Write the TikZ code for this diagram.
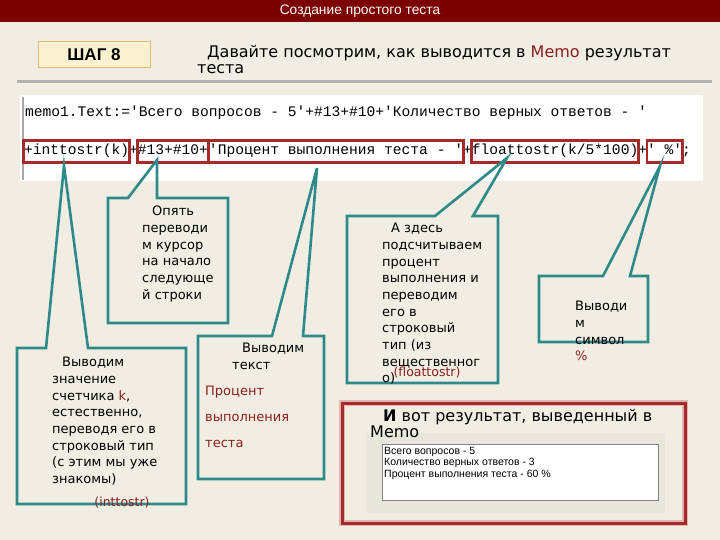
\documentclass[tikz,border=0pt]{standalone}
\usepackage{fontspec}
\setmainfont{DejaVu Sans}
\setmonofont{Liberation Mono}
\newfontfamily\titlefont{Liberation Sans}
\usetikzlibrary{positioning, fit}

\definecolor{bgcol}{HTML}{F1EDE2}
\definecolor{barcol}{HTML}{7D0000}
\definecolor{tealcol}{HTML}{2E8A8A}
\definecolor{boxred}{HTML}{A52A28}
\definecolor{txtred}{HTML}{8B1E1E}
\definecolor{stepfill}{HTML}{FCF2D2}
\definecolor{stepline}{HTML}{E6B870}
\definecolor{panelgray}{HTML}{E8E5DA}

\begin{document}
\begin{tikzpicture}[x=1pt, y=-1pt,
    code/.style={font=\ttfamily\fontsize{14.6}{17.3}\selectfont, inner sep=0pt, outer sep=0pt},
    redbox/.style={draw=boxred, line width=2.5pt, inner xsep=0.3pt, inner ysep=2.5pt},
    callout/.style={draw=tealcol, line width=2.6pt},
    note/.style={font=\fontsize{13}{16.7}\selectfont, align=left, inner sep=0pt, anchor=north west},
    rednote/.style={font=\fontsize{12.5}{15}\selectfont, text=txtred, inner sep=0pt}]
  \fill[bgcol] (0,0) rectangle (720,540);
  \useasboundingbox (0,0) rectangle (720,540);

  % title bar and step
  \fill[barcol] (0,0) rectangle (720,22);
  \node[text=white, font=\titlefont\fontsize{13.8}{15}\selectfont] (title) at (360,11) {Создание простого теста};
  \node[draw=stepline, fill=stepfill, line width=1pt, minimum width=112, minimum height=26,
    font=\titlefont\bfseries\fontsize{17}{18}\selectfont] (step8) at (94,55) {ШАГ 8};
  \node[note, font=\fontsize{16}{16.5}\selectfont] (head) at (197,45)
    {\hspace*{10pt}Давайте посмотрим, как выводится в \textcolor{txtred}{Memo} результат\\теста};
  \draw[gray!60, line width=3pt] (17,82) -- (712,82);

  % code
  \fill[white] (20,95) rectangle (703,181);
  \draw[gray!70, line width=1.5pt] (23,97) -- (23,180);
  \node[code, anchor=base west] (line1) at (25,117)
    {\strut memo1.Text:='Всего вопросов - 5'+\#13+\#10+'Количество верных ответов - '};
  \node[code, anchor=base west] (s1) at (24,155) {\strut +inttostr(k)};
  \node[code, base right=0pt of s1] (s2) {\strut +};
  \node[code, base right=0pt of s2] (s3) {\strut \#13+\#10+};
  \node[code, base right=0pt of s3] (s4) {\strut\ };
  \node[code, base right=0pt of s4] (s5) {\strut 'Процент выполнения теста - '};
  \node[code, base right=0pt of s5] (s6) {\strut +};
  \node[code, base right=0pt of s6] (s7) {\strut floattostr(k/5*100)};
  \node[code, base right=0pt of s7] (s8) {\strut +};
  \node[code, base right=0pt of s8] (s9) {\strut ' \%'};
  \node[code, base right=0pt of s9] (s10) {\strut ;};
  \node[redbox, fit=(s1)] (b1) {};
  \node[redbox, fit=(s3)] (b2) {};
  \node[redbox, fit=(s5)] (b3) {};
  \node[redbox, fit=(s7)] (b4) {};
  \node[redbox, fit=(s9)] (b5) {};

  % callouts
  \coordinate (tip1) at (64,166);
  \coordinate (tip2) at (157,160);
  \coordinate (tip3) at (317,168);
  \coordinate (tip4) at (507,158);
  \coordinate (tip5) at (660,166);
  \draw[callout] (17,348) -- (46,348) -- (tip1) -- (88,348) -- (186,348) -- (186,504) -- (17,504) -- cycle;
  \draw[callout] (108,198) -- (128,198) -- (tip2) -- (157,198) -- (228,198) -- (228,323) -- (108,323) -- cycle;
  \draw[callout] (198,336) -- (272,336) -- (tip3) -- (303,336) -- (324,336) -- (324,479) -- (198,479) -- cycle;
  \draw[callout] (347,216) -- (435,216) -- (tip4) -- (473,216) -- (498,216) -- (498,383) -- (347,383) -- cycle;
  \draw[callout] (539,276) -- (603,276) -- (tip5) -- (630,276) -- (648,276) -- (648,342) -- (539,342) -- cycle;

  \node[note] (t1) at (52,357) {\hspace*{10pt}Выводим\\значение\\счетчика \textcolor{txtred}{k},\\естественно,\\переводя его в\\строковый тип\\(с этим мы уже\\знакомы)};
  \node[rednote] (t1r) at (122,503) {(inttostr)};
  \node[note] (t2) at (142,206) {\hspace*{10pt}Опять\\переводи\\м курсор\\на начало\\следующе\\й строки};
  \node[note] (t3) at (232,343) {\hspace*{10pt}Выводим\\текст};
  \node[note, text=txtred, font=\fontsize{13}{26}\selectfont] (t3r) at (205,386) {Процент\\выполнения\\теста};
  \node[note] (t4) at (382,223) {\hspace*{9pt}А здесь\\подсчитываем\\процент\\выполнения и\\переводим\\его в\\строковый\\тип (из\\вещественног\\о)};
  \node[rednote] (t4r) at (427,373) {(floattostr)};
  \node[note] (t5) at (575,301) {Выводи\\м\\символ\\\textcolor{txtred}{\%}};

  % result
  \draw[boxred!35, line width=6pt] (342,403) rectangle (685,523);
  \draw[boxred, line width=3pt] (342,403) rectangle (685,523);
  \fill[panelgray] (366,433) rectangle (665,513);
  \draw[gray, fill=white, line width=.6pt] (382,444) rectangle (658,500);
  \node[note, font=\titlefont\fontsize{10.5}{11.5}\selectfont] (memo) at (384,447)
    {Всего вопросов - 5\\Количество верных ответов - 3\\Процент выполнения теста - 60 \%};
  \node[note, font=\fontsize{16}{16.5}\selectfont] (res) at (370,409)
    {\hspace*{13pt}\textbf{И} вот результат, выведенный в\\Memo};
\end{tikzpicture}
\end{document}
